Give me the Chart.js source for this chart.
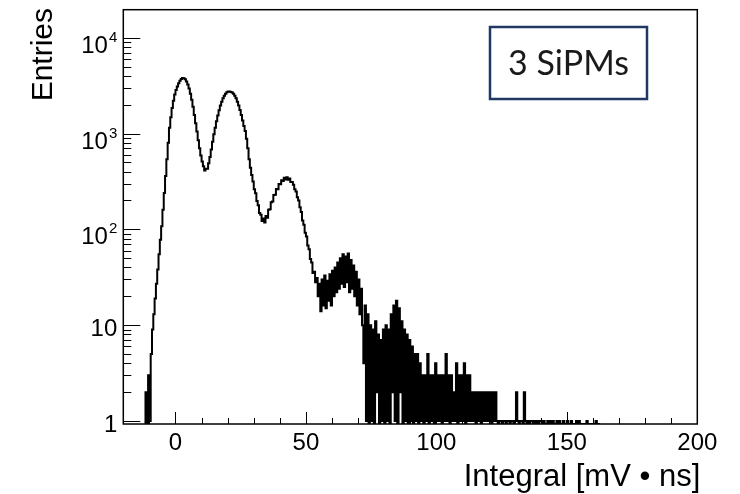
<!DOCTYPE html>
<html>
<head>
<meta charset="utf-8">
<script src="https://cdn.jsdelivr.net/npm/chart.js@4.4.1/dist/chart.umd.min.js"></script>
<style>
html, body { margin: 0; padding: 0; background: #fff; }
canvas { display: block; }
</style>
</head>
<body>
<canvas id="chart" width="740" height="494"></canvas>
<script>
// histogram: bins of 0.5 starting at -12
const binLow = -12;
const binWidth = 0.5;
const counts = [
  // -12 .. -7
  0, 2, 0, 3, 1, 5, 9, 13, 19, 27,
  // -7 .. -2
  38, 55, 78, 108, 160, 240, 360, 540, 800, 1150,
  // -2 .. 3
  1480, 1850, 2200, 2550, 2850, 3100, 3350, 3550, 3700, 3790,
  // 3 .. 8
  3780, 3680, 3500, 3250, 2950, 2600, 2250, 1900, 1560, 1280,
  // 8 .. 13
  1050, 850, 700, 590, 510, 455, 412, 430, 428, 490,
  // 13 .. 18
  570, 680, 820, 980, 1150, 1340, 1540, 1750, 1960, 2150,
  // 18 .. 23
  2330, 2480, 2600, 2690, 2740, 2750, 2720, 2680, 2600, 2480,
  // 23 .. 28
  2330, 2150, 1960, 1760, 1560, 1370, 1200, 1060, 880, 700,
  // 28 .. 33
  540, 440, 370, 315, 262, 238, 198, 178, 148, 142,
  // 33 .. 38
  122, 130, 118, 138, 132, 160, 162, 192, 195, 228,
  // 38 .. 43
  230, 264, 262, 298, 295, 326, 320, 345, 332, 350,
  // 43 .. 48
  330, 340, 312, 312, 292, 262, 248, 216, 200, 170,
  // 48 .. 53
  152, 124, 112, 92, 84, 68, 62, 49, 45, 35,
  // 53 .. 58
  36, 28, 31, 20, 27, 14, 30, 16, 33, 15,
  // 58 .. 63
  29, 18, 34, 16, 37, 20, 40, 22, 45, 24,
  // 63 .. 68
  50, 27, 55, 25, 52, 28, 56, 22, 48, 24,
  // 68 .. 73
  42, 20, 36, 16, 30, 13, 24, 10, 4, 16,
  // 73 .. 78
  1, 13, 0, 10, 1, 9, 0, 11, 2, 8,
  // 78 .. 83
  0, 7, 1, 9, 0, 10, 1, 9, 0, 13,
  // 83 .. 88
  2, 16, 1, 18, 0, 15, 2, 11, 0, 9,
  // 88 .. 93
  1, 8, 0, 7, 1, 6, 0, 5, 1, 5,
  // 93 .. 98
  0, 4, 1, 3, 0, 3, 1, 5, 0, 3,
  // 98 .. 103
  1, 3, 0, 4, 1, 3, 1, 3, 0, 3,
  // 103 .. 108
  1, 5, 1, 3, 0, 3, 1, 2, 1, 4,
  // 108 .. 113
  0, 3, 1, 3, 1, 4, 0, 3, 1, 3,
  // 113 .. 118
  1, 2, 1, 2, 0, 2, 1, 2, 0, 2,
  // 118 .. 123
  1, 2, 1, 2, 1, 2, 0, 2, 1, 2,
  // 123 .. 128
  1, 0, 1, 1, 0, 1, 1, 0, 1, 1,
  // 128 .. 133
  0, 1, 1, 0, 1, 2, 1, 0, 1, 1,
  // 133 .. 138
  0, 2, 1, 0, 1, 0, 1, 1, 0, 1,
  // 138 .. 143
  0, 1, 0, 1, 1, 0, 1, 0, 0, 1,
  // 143 .. 148
  0, 1, 0, 1, 0, 0, 1, 0, 1, 0,
  // 148 .. 153
  0, 1, 0, 0, 1, 0, 0, 1, 0, 0,
  // 153 .. 158
  0, 1, 0, 1, 0, 0, 0, 0, 0, 1,
  // 158 .. 163
  0, 0, 0, 0, 0, 0, 1, 0, 0, 0
];

const xRange = [-20, 200];
const yRange = [0.93, 19600];
const xMajorTicks = [0, 50, 100, 150, 200];
const xMinorTicks = [-10, 10, 20, 30, 40, 60, 70, 80, 90, 110, 120, 130, 140, 160, 170, 180, 190];
const yDecades = [1, 10, 100, 1000, 10000];
const yTickLabels = [['1', ''], ['10', ''], ['10', '2'], ['10', '3'], ['10', '4']];
const yMinorSteps = [2, 3, 4, 5, 6, 7, 8, 9];
const xTitle = 'Integral [mV \u2022 ns]';
const yTitle = 'Entries';
const boxText = '3 SiPMs';

const FONT = '"Liberation Sans", Arial, sans-serif';

const points = counts.map((c, i) => ({
  x: binLow + (i + 0.5) * binWidth,
  y: c > 0 ? c : yRange[0]
}));

const rootFrame = {
  id: 'rootFrame',
  afterDraw(chart) {
    const ctx = chart.ctx;
    const a = chart.chartArea;
    const x = chart.scales.x;
    const y = chart.scales.y;
    ctx.save();
    ctx.strokeStyle = '#000';
    ctx.lineWidth = 1;

    // y ticks, drawn inside the frame
    ctx.beginPath();
    yDecades.forEach(v => {
      const py = Math.round(y.getPixelForValue(v)) + 0.5;
      ctx.moveTo(a.left, py);
      ctx.lineTo(a.left + 17, py);
      yMinorSteps.forEach(k => {
        const mv = v * k;
        if (mv > yRange[1]) return;
        const my = Math.round(y.getPixelForValue(mv)) + 0.5;
        ctx.moveTo(a.left, my);
        ctx.lineTo(a.left + 8, my);
      });
    });
    // x ticks
    xMajorTicks.forEach(v => {
      const px = Math.round(x.getPixelForValue(v)) + 0.5;
      ctx.moveTo(px, a.bottom);
      ctx.lineTo(px, a.bottom - 12);
    });
    xMinorTicks.forEach(v => {
      const px = Math.round(x.getPixelForValue(v)) + 0.5;
      ctx.moveTo(px, a.bottom);
      ctx.lineTo(px, a.bottom - 6);
    });
    ctx.stroke();

    // frame
    ctx.lineWidth = 1.5;
    ctx.strokeRect(a.left, a.top, a.right - a.left, a.bottom - a.top);

    // y labels
    ctx.fillStyle = '#000';
    ctx.textAlign = 'right';
    ctx.textBaseline = 'alphabetic';
    yDecades.forEach((v, i) => {
      const py = y.getPixelForValue(v);
      const base = yTickLabels[i][0];
      const sup = yTickLabels[i][1];
      let right = a.left - 6;
      if (sup) {
        ctx.font = '15px ' + FONT;
        ctx.fillText(sup, right, py + 4);
        right -= ctx.measureText(sup).width + 1;
        ctx.font = '24px ' + FONT;
        ctx.fillText(base, right, py + 15);
      } else {
        ctx.font = '24px ' + FONT;
        ctx.fillText(base, right, py + 11);
      }
    });

    // x labels
    ctx.textAlign = 'center';
    ctx.font = '24px ' + FONT;
    xMajorTicks.forEach(v => {
      ctx.fillText(String(v), x.getPixelForValue(v), a.bottom + 26);
    });

    // axis titles
    ctx.font = '31px ' + FONT;
    ctx.textAlign = 'right';
    ctx.fillText(xTitle, a.right + 3, 486);

    ctx.save();
    ctx.font = '30px ' + FONT;
    ctx.translate(52, 8);
    ctx.rotate(-Math.PI / 2);
    ctx.textAlign = 'right';
    ctx.fillText(yTitle, 0, 0);
    ctx.restore();

    // text box
    ctx.fillStyle = '#fff';
    ctx.fillRect(490, 27, 157, 72);
    ctx.strokeStyle = '#1f3864';
    ctx.lineWidth = 2.5;
    ctx.strokeRect(490, 27, 157, 72);
    ctx.fillStyle = '#1a1a1a';
    ctx.font = '34px Lato, "Open Sans", sans-serif';
    ctx.textAlign = 'center';
    ctx.fillText(boxText, 568.5, 75);

    ctx.restore();
  }
};

const ctx = document.getElementById('chart').getContext('2d');
const myChart = new Chart(ctx, {
  type: 'line',
  data: {
    datasets: [{
      label: 'Entries',
      data: points,
      stepped: 'middle',
      borderColor: '#000',
      borderWidth: 2,
      pointRadius: 0,
      fill: false,
      clip: 0
    }]
  },
  options: {
    responsive: false,
    animation: false,
    layout: { padding: { left: 0, right: 42.7, top: 9.7, bottom: 0 } },
    plugins: { legend: { display: false }, tooltip: { enabled: false } },
    scales: {
      x: {
        type: 'linear',
        min: xRange[0],
        max: xRange[1],
        grid: { display: false },
        border: { display: false },
        ticks: { display: false },
        afterFit: s => { s.height = 70; }
      },
      y: {
        type: 'logarithmic',
        min: yRange[0],
        max: yRange[1],
        grid: { display: false },
        border: { display: false },
        ticks: { display: false },
        afterFit: s => { s.width = 123.3; }
      }
    }
  },
  plugins: [rootFrame]
});
</script>
</body>
</html>
